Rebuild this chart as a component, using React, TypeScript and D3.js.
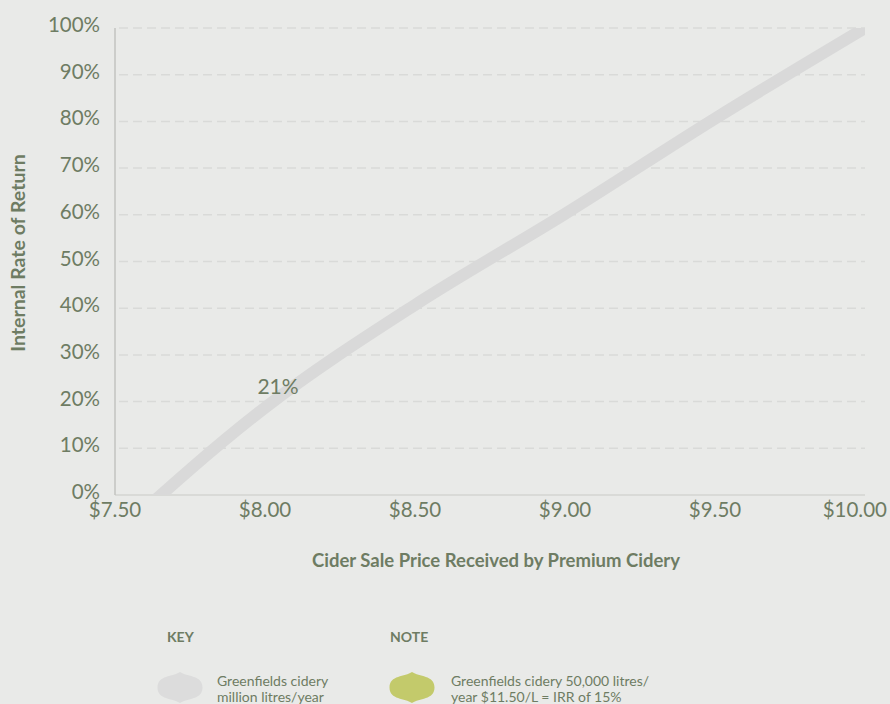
import React from "react";
import * as d3 from "d3";

const prices = [7.5, 8.0, 8.5, 9.0, 9.5, 10.0];
const irr = [-8.8, 18.7, 40.7, 60.2, 80.6, 100];
const yTicks = [0, 10, 20, 30, 40, 50, 60, 70, 80, 90, 100];
const xTicks = [7.5, 8.0, 8.5, 9.0, 9.5, 10.0];
const labelPrice = [8.0];
const labelText = ["21%"];

const W = 890, H = 704;
const M = { left: 115, right: 865, top: 28, bottom: 495 };
const TXT = "#6e7c63";
const FONT = "Lato, 'Open Sans', sans-serif";

function legendShape(cx: number, top: number, w: number, h: number) {
  const bot = top + h, mid = top + h / 2, hw = w / 2;
  return `M${cx},${top} C${cx + 7},${top + 5} ${cx + hw},${top + 3} ${cx + hw},${mid}
    C${cx + hw},${bot - 3} ${cx + 7},${bot - 5} ${cx},${bot}
    C${cx - 7},${bot - 5} ${cx - hw},${bot - 3} ${cx - hw},${mid}
    C${cx - hw},${top + 3} ${cx - 7},${top + 5} ${cx},${top} Z`;
}

export default function App() {
  const x = d3.scaleLinear().domain([7.5, 10]).range([M.left, M.right]);
  const y = d3.scaleLinear().domain([0, 100]).range([M.bottom, M.top]);
  const pts = prices.map((p, i) => [p, irr[i]] as [number, number]);
  const line = d3.line<[number, number]>().x(d => x(d[0])).y(d => y(d[1])).curve(d3.curveMonotoneX);
  return (
    <svg width={W} height={H} style={{ position: "absolute", left: 0, top: 0, background: "#e9eae8" }} fontFamily={FONT}>
      <defs>
        <clipPath id="plot">
          <rect x={M.left} y={M.top} width={M.right - M.left} height={M.bottom - M.top} />
        </clipPath>
      </defs>
      <rect width={W} height={H} fill="#e9eae8" />
      {yTicks.filter(t => t > 0).map(t => (
        <line key={t} x1={M.left + 4} x2={M.right} y1={y(t)} y2={y(t)} stroke="#d9dad8" strokeWidth={1.5} strokeDasharray="9,5" />
      ))}
      <line x1={M.left} x2={M.right} y1={M.bottom} y2={M.bottom} stroke="#d3d4d2" strokeWidth={1.5} />
      <line x1={M.left} x2={M.left} y1={M.top} y2={M.bottom} stroke="#c2c3c1" strokeWidth={1.5} />
      <path d={line(pts) || ""} fill="none" stroke="#d9d9d9" strokeWidth={12} clipPath="url(#plot)" />
      {yTicks.map(t => (
        <text key={t} x={100} y={y(t) + 4} textAnchor="end" fontSize={20.5} fill={TXT}>{t}%</text>
      ))}
      {xTicks.map((t, i) => {
        const last = i === xTicks.length - 1;
        return (
          <text key={t} x={last ? 887 : x(t)} y={M.bottom + 22} textAnchor={last ? "end" : "middle"} fontSize={20.5} fill={TXT}>${t.toFixed(2)}</text>
        );
      })}
      {labelPrice.map((p, i) => (
        <text key={p} x={x(p) + 13} y={394} textAnchor="middle" fontSize={21} fill={TXT}>{labelText[i]}</text>
      ))}
      <text transform={`translate(25,253) rotate(-90)`} textAnchor="middle" fontSize={19.5} fontWeight="bold" fill={TXT}>Internal Rate of Return</text>
      <text x={496} y={567} textAnchor="middle" fontSize={18.5} fontWeight="bold" fill={TXT}>Cider Sale Price Received by Premium Cidery</text>
      <text x={167} y={642} fontSize={14} fontWeight="bold" fill={TXT}>KEY</text>
      <text x={390} y={642} fontSize={14} fontWeight="bold" fill={TXT}>NOTE</text>
      <path d={legendShape(180, 672, 45, 31)} fill="#dcdcdc" />
      <path d={legendShape(412, 672, 45, 31)} fill="#c3ca6b" />
      <text x={217} y={686} fontSize={14} fill={TXT}>Greenfields cidery</text>
      <text x={217} y={702} fontSize={14} fill={TXT}>million litres/year</text>
      <text x={451} y={686} fontSize={14} fill={TXT}>Greenfields cidery 50,000 litres/</text>
      <text x={451} y={702} fontSize={14} fill={TXT}>year $11.50/L = IRR of 15%</text>
    </svg>
  );
}
